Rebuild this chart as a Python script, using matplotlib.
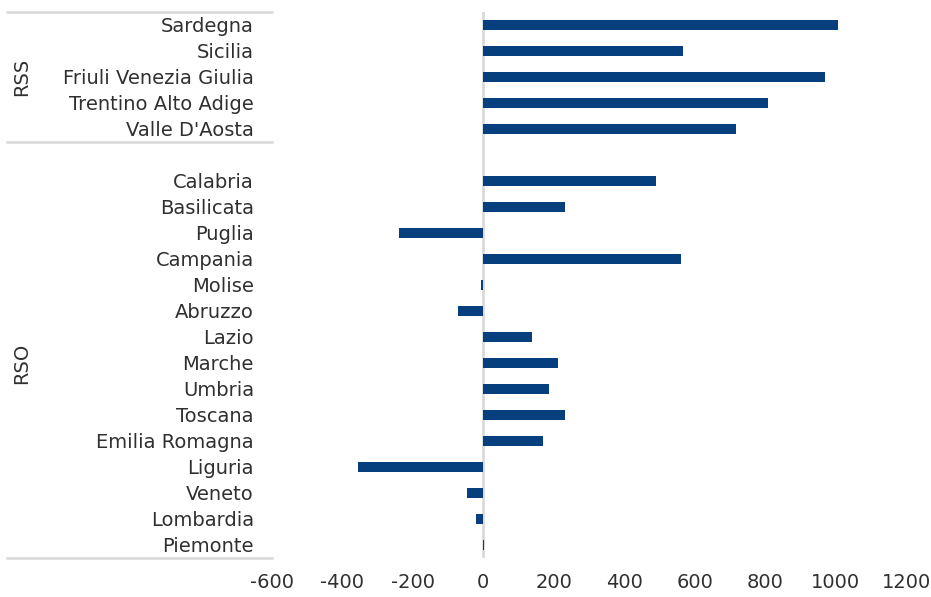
import matplotlib.pyplot as plt
from matplotlib.transforms import blended_transform_factory

regions_rss = ["Sardegna", "Sicilia", "Friuli Venezia Giulia", "Trentino Alto Adige", "Valle D'Aosta"]
values_rss = [1008, 568, 969, 807, 716]

regions_rso = ["Calabria", "Basilicata", "Puglia", "Campania", "Molise", "Abruzzo", "Lazio",
               "Marche", "Umbria", "Toscana", "Emilia Romagna", "Liguria", "Veneto",
               "Lombardia", "Piemonte"]
values_rso = [489, 233, -239, 562, -6, -71, 139, 213, 187, 233, 168, -355, -45, -20, 2]

groups = [("RSS", 0, 4), ("RSO", 6, 20)]
xticks = [-600, -400, -200, 0, 200, 400, 600, 800, 1000, 1200]

plt.rcParams["font.family"] = ["DejaVu Sans"]
BAR = "#053F7D"
GRID = "#D9D9D9"
TXT = "#303030"
FS = 14

fig = plt.figure(figsize=(9.31, 5.97), dpi=100)
ax = fig.add_axes([272 / 931, 1 - 558 / 597, (906 - 272) / 931, (558 - 12) / 597])

labels = regions_rss + [""] + regions_rso
positions = list(range(len(regions_rss))) + list(range(len(regions_rss) + 1, len(labels)))
values = values_rss + values_rso

ax.barh(positions, values, height=0.37, color=BAR, zorder=3)
ax.axvline(0, color=GRID, lw=2, zorder=2)

ax.set_xlim(-600, 1200)
ax.set_ylim(len(labels) - 0.5, -0.5)
ax.set_xticks(xticks)
ax.set_xticklabels([str(t) for t in xticks], fontsize=FS, color=TXT)
ax.set_yticks(range(len(labels)))
ax.set_yticklabels(labels, fontsize=FS, color=TXT)
ax.tick_params(length=0)
ax.tick_params(axis="y", pad=13)
ax.tick_params(axis="x", pad=11)
for s in ax.spines.values():
    s.set_visible(False)

# category group axis on the left
tr = blended_transform_factory(fig.transFigure, ax.transData)
for yb in [-0.5, 4.5, 20.5]:
    ax.plot([7 / 931, 272 / 931], [yb, yb], color=GRID, lw=1.8, transform=tr, clip_on=False)
for name, a, b in groups:
    ax.text(22 / 931, (a + b) / 2, name, transform=tr, rotation=90, ha="center", va="center",
            fontsize=FS, color=TXT)

fig.savefig("out.png", dpi=100)
